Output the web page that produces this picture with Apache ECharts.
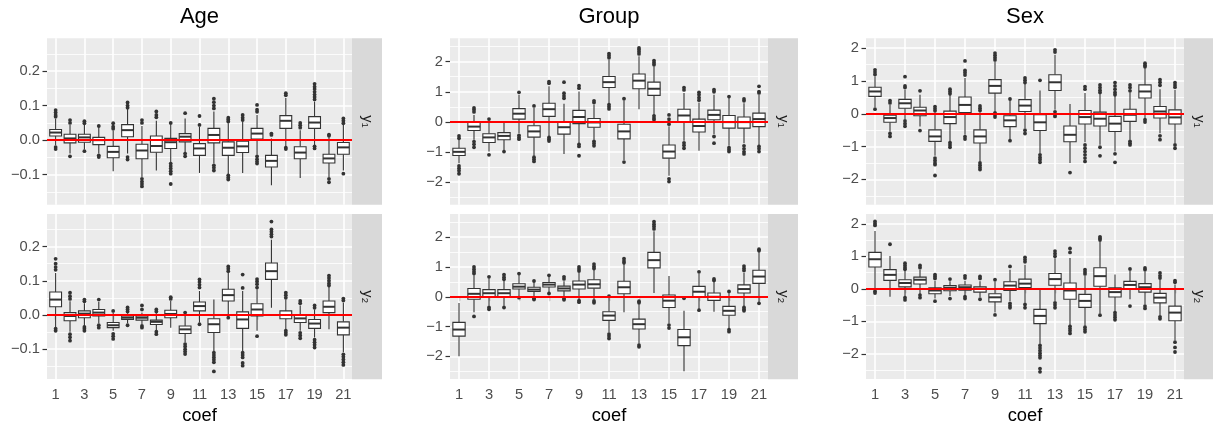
<!DOCTYPE html>
<html>
<head>
<meta charset="utf-8">
<title>coef boxplots</title>
<script src="https://cdn.jsdelivr.net/npm/echarts@6/dist/echarts.min.js"></script>
<style>
  html, body { margin: 0; padding: 0; background: #fff; }
  #chart { width: 1213px; height: 426px; }
</style>
</head>
<body>
<div id="chart"></div>
<script>
// x categories and tick labels
const coefs = [1, 2, 3, 4, 5, 6, 7, 8, 9, 10, 11, 12, 13, 14, 15, 16, 17, 18, 19, 20, 21];
const xTicks = [1, 3, 5, 7, 9, 11, 13, 15, 17, 19, 21];

// y ticks per column (major = labelled, minor = thin grid only)
const ageTicks = [-0.1, 0, 0.1, 0.2];
const ageMinor = [-0.15, -0.05, 0.05, 0.15, 0.25];
const groupTicks = [-2, -1, 0, 1, 2];
const groupMinor = [-2.5, -1.5, -0.5, 0.5, 1.5, 2.5];
const sexTicks = [-2, -1, 0, 1, 2];
const sexMinor = [-2.5, -1.5, -0.5, 0.5, 1.5];

// boxes: [lower whisker, Q1, median, Q3, upper whisker] for coef 1..21
const ageY1Box = [
  [-0.015, 0.012, 0.022, 0.031, 0.063], [-0.039, -0.008, 0.005, 0.017, 0.044], [-0.027, -0.006, 0.008, 0.017, 0.044],
  [-0.039, -0.013, 0.0, 0.008, 0.037], [-0.09, -0.051, -0.034, -0.018, 0.027], [-0.039, 0.01, 0.029, 0.045, 0.09],
  [-0.107, -0.054, -0.03, -0.012, 0.041], [-0.088, -0.035, -0.017, 0.012, 0.056], [-0.063, -0.024, -0.006, 0.005, 0.047],
  [-0.034, -0.005, 0.01, 0.019, 0.063], [-0.095, -0.044, -0.024, -0.01, 0.039], [-0.068, -0.008, 0.015, 0.034, 0.083],
  [-0.099, -0.044, -0.022, -0.005, 0.049], [-0.095, -0.036, -0.018, -0.003, 0.054], [-0.042, 0.003, 0.019, 0.034, 0.073],
  [-0.131, -0.078, -0.06, -0.044, 0.005], [-0.019, 0.034, 0.056, 0.071, 0.122], [-0.11, -0.054, -0.036, -0.019, 0.029],
  [-0.015, 0.034, 0.051, 0.068, 0.112], [-0.107, -0.066, -0.053, -0.041, 0.01], [-0.088, -0.041, -0.021, -0.007, 0.044]
];
const ageY2Box = [
  [-0.035, 0.024, 0.045, 0.067, 0.123], [-0.049, -0.017, -0.003, 0.007, 0.04], [-0.032, -0.008, 0.004, 0.012, 0.034],
  [-0.024, -0.003, 0.007, 0.016, 0.038], [-0.046, -0.037, -0.03, -0.022, 0.007], [-0.024, -0.013, -0.008, -0.003, 0.005],
  [-0.027, -0.015, -0.008, -0.003, 0.007], [-0.044, -0.028, -0.02, -0.015, 0.005], [-0.037, -0.008, 0.003, 0.014, 0.041],
  [-0.08, -0.054, -0.042, -0.032, 0.002], [-0.022, 0.012, 0.026, 0.038, 0.07], [-0.105, -0.051, -0.027, -0.011, 0.045],
  [-0.003, 0.041, 0.058, 0.075, 0.125], [-0.105, -0.039, -0.013, 0.009, 0.07], [-0.046, -0.003, 0.016, 0.033, 0.075],
  [0.021, 0.104, 0.128, 0.152, 0.22], [-0.042, -0.011, 0.0, 0.012, 0.045], [-0.046, -0.022, -0.01, -0.001, 0.028],
  [-0.066, -0.039, -0.025, -0.013, 0.016], [-0.042, 0.007, 0.024, 0.041, 0.082], [-0.109, -0.058, -0.037, -0.02, 0.036]
];
const groupY1Box = [
  [-1.38, -1.12, -1.0, -0.88, -0.6], [-0.6, -0.29, -0.16, -0.02, 0.23], [-0.99, -0.69, -0.52, -0.4, 0.04],
  [-0.96, -0.6, -0.47, -0.36, 0.01], [-0.38, 0.09, 0.27, 0.44, 0.9], [-1.13, -0.51, -0.32, -0.13, 0.46],
  [-0.47, 0.18, 0.42, 0.62, 1.18], [-1.07, -0.41, -0.18, 0.01, 0.6], [-0.71, -0.06, 0.16, 0.38, 1.01],
  [-0.6, -0.18, -0.02, 0.11, 0.57], [0.62, 1.14, 1.32, 1.51, 2.07], [-1.27, -0.57, -0.32, -0.08, 0.72],
  [0.42, 1.1, 1.37, 1.59, 2.18], [0.23, 0.88, 1.1, 1.32, 1.84], [-1.8, -1.21, -0.99, -0.77, -0.15],
  [-0.63, 0.01, 0.21, 0.42, 0.96], [-0.96, -0.34, -0.14, 0.09, 0.64], [-0.41, 0.07, 0.23, 0.39, 0.9],
  [-0.8, -0.21, -0.01, 0.21, 0.79], [-0.71, -0.21, -0.01, 0.16, 0.62], [-0.77, -0.16, 0.09, 0.29, 0.9]
];
const groupY2Box = [
  [-2.0, -1.32, -1.1, -0.86, -0.21], [-0.52, -0.08, 0.1, 0.28, 0.72], [-0.3, 0.01, 0.12, 0.24, 0.62],
  [-0.3, 0.01, 0.12, 0.24, 0.55], [0.01, 0.26, 0.34, 0.44, 0.73], [0.01, 0.18, 0.24, 0.32, 0.48],
  [0.14, 0.33, 0.41, 0.48, 0.67], [0.01, 0.2, 0.28, 0.36, 0.52], [-0.08, 0.26, 0.41, 0.53, 0.84],
  [-0.08, 0.29, 0.42, 0.57, 0.9], [-1.2, -0.79, -0.63, -0.5, -0.02], [-0.52, 0.1, 0.32, 0.52, 1.1],
  [-1.58, -1.08, -0.92, -0.75, -0.25], [0.13, 0.97, 1.23, 1.49, 2.2], [-0.9, -0.36, -0.13, 0.06, 0.7],
  [-2.5, -1.64, -1.36, -1.1, -0.47], [-0.42, 0.01, 0.17, 0.35, 0.78], [-0.5, -0.12, 0.0, 0.13, 0.5],
  [-1.05, -0.62, -0.47, -0.32, 0.13], [-0.32, 0.13, 0.26, 0.4, 0.8], [-0.2, 0.45, 0.68, 0.89, 1.5]
];
const sexY1Box = [
  [0.2, 0.53, 0.68, 0.81, 1.14], [-0.54, -0.26, -0.13, -0.04, 0.27], [-0.16, 0.17, 0.32, 0.44, 0.73],
  [-0.39, -0.06, 0.1, 0.2, 0.58], [-1.28, -0.84, -0.69, -0.49, 0.04], [-0.84, -0.3, -0.1, 0.08, 0.57],
  [-0.64, 0.04, 0.27, 0.51, 1.09], [-1.45, -0.89, -0.69, -0.49, 0.04], [0.07, 0.63, 0.85, 1.04, 1.59],
  [-0.77, -0.39, -0.2, -0.06, 0.41], [-0.44, 0.07, 0.25, 0.43, 0.91], [-1.2, -0.51, -0.26, -0.03, 0.71],
  [0.12, 0.71, 0.96, 1.19, 1.8], [-1.5, -0.85, -0.64, -0.37, 0.3], [-0.87, -0.31, -0.1, 0.1, 0.63],
  [-0.94, -0.37, -0.15, 0.05, 0.61], [-1.15, -0.54, -0.3, -0.08, 0.55], [-0.79, -0.23, -0.03, 0.14, 0.65],
  [-0.13, 0.48, 0.68, 0.88, 1.39], [-0.59, -0.13, 0.07, 0.22, 0.75], [-0.89, -0.31, -0.11, 0.12, 0.73]
];
const sexY2Box = [
  [-0.02, 0.67, 0.91, 1.12, 1.78], [-0.24, 0.26, 0.43, 0.59, 1.01], [-0.24, 0.06, 0.18, 0.28, 0.57],
  [-0.16, 0.15, 0.28, 0.36, 0.59], [-0.3, -0.15, -0.05, 0.03, 0.25], [-0.22, -0.06, 0.03, 0.1, 0.23],
  [-0.2, -0.04, 0.05, 0.12, 0.25], [-0.25, -0.1, 0.0, 0.06, 0.23], [-0.73, -0.4, -0.26, -0.15, 0.22],
  [-0.37, -0.05, 0.1, 0.22, 0.59], [-0.43, 0.04, 0.16, 0.3, 0.74], [-1.69, -1.07, -0.83, -0.63, -0.02],
  [-0.37, 0.11, 0.3, 0.47, 0.94], [-1.11, -0.32, -0.05, 0.18, 0.95], [-1.13, -0.57, -0.37, -0.17, 0.4],
  [-0.76, 0.08, 0.39, 0.65, 1.45], [-0.68, -0.25, -0.1, 0.03, 0.44], [-0.32, 0.0, 0.12, 0.23, 0.55],
  [-0.48, -0.1, 0.05, 0.16, 0.54], [-0.81, -0.43, -0.27, -0.14, 0.28], [-1.59, -0.98, -0.73, -0.53, 0.13]
];

// outlier points, one list per coef 1..21
const ageY1Out = [
  [0.087, 0.08, 0.073, 0.068, -0.02, -0.026], [0.058, 0.05, -0.047], [0.055, 0.049, -0.032],
  [0.041, -0.044, -0.049], [0.049, 0.039, 0.033], [0.109, 0.1, 0.094, -0.049, -0.056],
  [0.058, 0.05, -0.112, -0.12, -0.127, -0.134], [0.083, 0.073, 0.066], [0.05, -0.068, -0.075, -0.082, -0.09, -0.097, -0.127],
  [0.078, -0.039, -0.047], [0.07, 0.044], [0.12, 0.11, 0.1, 0.092, -0.073, -0.08, -0.088],
  [0.065, 0.06, 0.054, -0.102, -0.108, -0.114], [0.073, 0.065, 0.058], [0.102, 0.088, 0.082, -0.047, -0.055, -0.062, -0.068],
  [0.019, 0.015], [0.136, 0.13, -0.022, -0.026], [0.05, 0.043, 0.036],
  [0.163, 0.155, 0.148, 0.14, 0.132, 0.125, 0.118, -0.018, -0.024], [0.016, 0.013, -0.112, -0.122], [0.063, 0.056, 0.049, -0.097]
];
const ageY2Out = [
  [0.164, 0.15, 0.14, 0.132, -0.04, -0.046], [0.065, 0.055, 0.047, -0.056, -0.065, -0.075], [0.045, 0.04, -0.035, -0.04, -0.046],
  [0.045, -0.03, -0.037], [0.012, -0.055, -0.062, -0.07], [0.022, 0.016, 0.01, -0.03],
  [0.028, 0.016, -0.032, -0.037], [0.016, 0.01, -0.049, -0.056], [0.052, 0.047],
  [0.007, -0.085, -0.092, -0.1, -0.107, -0.114], [0.104, 0.096, 0.088, 0.08, -0.027], [-0.11, -0.117, -0.124, -0.131, -0.138, -0.165],
  [0.142, 0.135, 0.128, -0.008], [0.118, 0.079, -0.11, -0.117, -0.124, -0.14, -0.148], [0.105, 0.098, 0.09, 0.08, -0.062],
  [0.273, 0.25, 0.243, 0.236, 0.229], [0.065, 0.058, 0.05, -0.046, -0.052, -0.058], [0.041, 0.034, -0.052, -0.06, -0.068],
  [0.028, 0.021, -0.072, -0.08, -0.087, -0.095], [0.115, 0.108, 0.1, 0.092, 0.086], [0.048, 0.042, -0.115, -0.122, -0.13, -0.138, -0.146]
];
const groupY1Out = [
  [-0.47, -0.55, -1.47, -1.55, -1.63, -1.73], [0.46, 0.4, 0.33, -0.66, -0.75, -0.85], [0.09, -1.1],
  [-0.99], [0.98, -0.45, -0.52, -0.58], [0.53, -1.18, -1.25, -1.32],
  [1.34, 1.28, -0.52, -0.58, -0.64], [1.32, 0.95, 0.86, 0.78], [1.2, 1.12, -0.75, -0.82, -1.13],
  [0.7, 0.64, -0.65, -0.72, -0.8], [2.27, 2.2, 2.13, 0.57, 0.5, 0.43], [0.77, -1.34],
  [2.46, 2.4, 2.33, 2.26], [2.04, 1.97, 1.9, 0.2, 0.13, 0.07], [0.23, 0.09, 0.0, -0.08, -1.9, -1.99],
  [1.14, 1.06, -0.7, -0.78, -0.88], [0.98, 0.9, 0.8, 0.72], [1.07, 1.0, -0.49, -0.71],
  [0.84, -0.86, -0.93, -0.99], [0.76, 0.7, -0.8, -0.9, -1.0, -1.07], [1.18, 1.0, 0.96, -0.82, -0.9, -0.99]
];
const groupY2Out = [
  [], [1.0, 0.92, 0.84, 0.78, -0.66], [0.67, -0.36, -0.42],
  [0.74, 0.66, 0.59, -0.36], [0.78, -0.03], [0.53, -0.05, -0.09],
  [0.72, 0.11], [0.67, 0.6, -0.06, -0.1], [1.0, 0.93, 0.87, -0.13, -0.18],
  [1.1, 1.02, 0.95, -0.14, -0.2], [0.02, -1.25, -1.32, -1.4], [1.28, 1.2, 1.14],
  [-0.15, -0.2, -1.62, -1.68], [2.52, 2.44, 2.36, 2.28], [-0.95, -1.05],
  [-0.05], [0.84, -0.45], [0.6, 0.55],
  [0.18, -1.1, -1.17], [1.03, 0.95, 0.88, -0.36, -0.42, -0.47], [1.6, 1.55, -0.22]
];
const sexY1Out = [
  [1.34, 1.27, 1.2, 0.14], [0.4, 0.33, -0.6, -0.69], [1.13, 0.85, 0.8, -0.22, -0.3, -0.38],
  [0.7, -0.51], [0.22, 0.15, 0.09, -1.35, -1.42, -1.5, -1.55, -1.88], [0.75, 0.68, 0.61, -0.88, -0.95, -1.02],
  [1.61, 1.32, 1.25, 1.18, -0.7, -0.77], [0.24, 0.17, 0.1, -1.5, -1.57, -1.64, -1.7], [1.85, 1.78, 1.71, 1.64, 0.03, -0.04, -0.1],
  [0.45, -0.82], [1.09, 1.02, 0.95, -0.5, -0.6], [1.02, -1.25, -1.33, -1.4, -1.48],
  [1.95, 1.88, 0.06, -0.02, -0.08], [-1.79], [0.83, 0.75, -0.95, -1.05, -1.15, -1.25, -1.35, -1.45],
  [0.88, 0.8, 0.72, 0.65, -1.02, -1.28], [0.95, 0.85, 0.75, 0.65, 0.58, -1.22, -1.48], [0.88, 0.8, 0.7, -0.84, -0.9, -0.95],
  [1.54, 1.48, 1.43, -0.18, -0.25], [1.04, 0.96, 0.87, -0.67, -0.79], [0.95, 0.88, 0.81, -0.95, -1.05]
];
const sexY2Out = [
  [2.07, 2.0, 1.95, -0.07, -0.13], [1.37], [0.79, 0.72, 0.65, 0.6, -0.27, -0.34],
  [0.72, 0.65, -0.19, -0.27], [0.44, 0.38, 0.32, -0.38], [0.3, -0.3],
  [0.4, 0.33, -0.24, -0.3], [0.38, 0.32, -0.32], [0.28, -0.8],
  [0.69, -0.45, -0.52, -0.58], [0.97, 0.9, 0.83, -0.48, -0.58], [-1.74, -1.82, -1.9, -1.98, -2.05, -2.12, -2.45, -2.55],
  [1.16, 1.08, 1.0, -0.43, -0.5, -0.58], [1.24, 1.12, -1.15, -1.22, -1.29, -1.37], [0.59, 0.52, 0.46, -1.18, -1.25, -1.32],
  [1.6, 1.55, 1.5, -0.81], [-0.73, -0.8, -0.87, -0.95], [0.61, -0.53],
  [0.64, 0.59, -0.53, -0.6], [0.49, 0.4, 0.33, -0.86, -0.92], [0.25, 0.2, -1.64, -1.8, -1.94]
];

const titles = ["Age", "Group", "Sex"];
const stripLabels = ["y\u2081", "y\u2082"];

// panel layout (pixels)
const FONT = "'Liberation Sans', Arial, Helvetica, sans-serif";
const cols = [
  { left: 47, width: 305, min: -0.187, max: 0.295, ticks: ageTicks, minor: ageMinor, digits: 1, boxes: [ageY1Box, ageY2Box], outs: [ageY1Out, ageY2Out] },
  { left: 450, width: 318, min: -2.76, max: 2.78, ticks: groupTicks, minor: groupMinor, digits: 0, boxes: [groupY1Box, groupY2Box], outs: [groupY1Out, groupY2Out] },
  { left: 866, width: 318, min: -2.77, max: 2.3, ticks: sexTicks, minor: sexMinor, digits: 0, boxes: [sexY1Box, sexY2Box], outs: [sexY1Out, sexY2Out] }
];
const rows = [{ top: 38.3, height: 166.4 }, { top: 214, height: 165.3 }];
const stripW = 30;
const BOX_W = 0.82;

const fmt = (d) => (v) => (v < 0 ? "\u2212" : "") + Math.abs(v).toFixed(d);

function renderBox(params, api) {
  const x = api.value(0);
  const lo = api.coord([x, api.value(1)]);
  const q1 = api.coord([x, api.value(2)]);
  const md = api.coord([x, api.value(3)]);
  const q3 = api.coord([x, api.value(4)]);
  const hi = api.coord([x, api.value(5)]);
  const w = api.size([BOX_W, 0])[0];
  const ln = { stroke: "#333333", lineWidth: 1.1 };
  return {
    type: "group",
    children: [
      { type: "line", shape: { x1: hi[0], y1: hi[1], x2: q3[0], y2: q3[1] }, style: ln },
      { type: "line", shape: { x1: q1[0], y1: q1[1], x2: lo[0], y2: lo[1] }, style: ln },
      { type: "rect", shape: { x: q3[0] - w / 2, y: q3[1], width: w, height: q1[1] - q3[1] },
        style: { fill: "#ffffff", stroke: "#333333", lineWidth: 1.1 } },
      { type: "line", shape: { x1: md[0] - w / 2, y1: md[1], x2: md[0] + w / 2, y2: md[1] },
        style: { stroke: "#333333", lineWidth: 2 } }
    ]
  };
}

const grid = [], xAxis = [], yAxis = [], series = [], graphic = [];

cols.forEach((c, ci) => {
  graphic.push({
    type: "text", x: c.left + c.width / 2, y: 17, silent: true,
    style: { text: titles[ci], font: "22px " + FONT, fill: "#000000",
      align: "center", verticalAlign: "middle", textAlign: "center", textVerticalAlign: "middle" }
  });
  rows.forEach((r, ri) => {
    const gi = grid.length;
    const bottom = ri === rows.length - 1;
    grid.push({ left: c.left, top: r.top, width: c.width, height: r.height,
      show: true, backgroundColor: "#EBEBEB", borderWidth: 0 });
    xAxis.push({
      type: "value", gridIndex: gi, min: 0.4, max: 21.6,
      splitLine: { show: false }, axisLine: { show: false },
      axisTick: { show: bottom, length: 4.5, customValues: xTicks, lineStyle: { color: "#333333", width: 1.2 } },
      axisLabel: { show: bottom, customValues: xTicks, color: "#4D4D4D", fontSize: 14.7, fontFamily: FONT, margin: 8 },
      name: bottom ? "coef" : "", nameLocation: "middle", nameGap: 28,
      nameTextStyle: { color: "#000000", fontSize: 18.3, fontFamily: FONT }
    });
    yAxis.push({
      type: "value", gridIndex: gi, min: c.min, max: c.max,
      splitLine: { show: false }, axisLine: { show: false },
      axisTick: { show: true, length: 4.5, customValues: c.ticks, lineStyle: { color: "#333333", width: 1.2 } },
      axisLabel: { customValues: c.ticks, formatter: fmt(c.digits), color: "#4D4D4D", fontSize: 14.7, fontFamily: FONT, margin: 7 }
    });

    const gridLines = [].concat(
      xTicks.map((v) => ({ xAxis: v })),
      c.ticks.map((v) => ({ yAxis: v })),
      c.minor.filter((v) => v > c.min && v < c.max).map((v) => ({ yAxis: v, lineStyle: { width: 0.8 } }))
    );
    series.push({
      type: "line", xAxisIndex: gi, yAxisIndex: gi, data: [], silent: true,
      markLine: { silent: true, symbol: "none", z: 1, animation: false,
        label: { show: false }, emphasis: { disabled: true },
        lineStyle: { type: "solid", color: "#FFFFFF", width: 1.6 }, data: gridLines }
    });
    series.push({
      type: "custom", xAxisIndex: gi, yAxisIndex: gi, z: 2, silent: true,
      renderItem: renderBox,
      encode: { x: 0, y: [1, 2, 3, 4, 5] },
      data: coefs.map((k, i) => [k].concat(c.boxes[ri][i]))
    });
    const pts = [];
    c.outs[ri].forEach((list, i) => list.forEach((v) => pts.push([coefs[i], v])));
    series.push({
      type: "scatter", xAxisIndex: gi, yAxisIndex: gi, z: 3, silent: true,
      symbolSize: 3.8, itemStyle: { color: "#333333", opacity: 1 }, data: pts,
      markLine: { silent: true, symbol: "none", z: 6, animation: false,
        label: { show: false }, emphasis: { disabled: true },
        lineStyle: { type: "solid", color: "#FF0000", width: 1.8 }, data: [{ yAxis: 0 }] }
    });

    // facet strip on the right
    graphic.push({ type: "rect", silent: true,
      shape: { x: c.left + c.width, y: r.top, width: stripW, height: r.height },
      style: { fill: "#D9D9D9" } });
    graphic.push({ type: "text", silent: true, rotation: -Math.PI / 2,
      x: c.left + c.width + stripW / 2, y: r.top + r.height / 2,
      style: { text: stripLabels[ri], font: "14.7px " + FONT, fill: "#1A1A1A",
        align: "center", verticalAlign: "middle", textAlign: "center", textVerticalAlign: "middle" } });
  });
});

const myChart = echarts.init(document.getElementById("chart"));
myChart.setOption({
  animation: false,
  backgroundColor: "#FFFFFF",
  grid, xAxis, yAxis, series, graphic
});
</script>
</body>
</html>
